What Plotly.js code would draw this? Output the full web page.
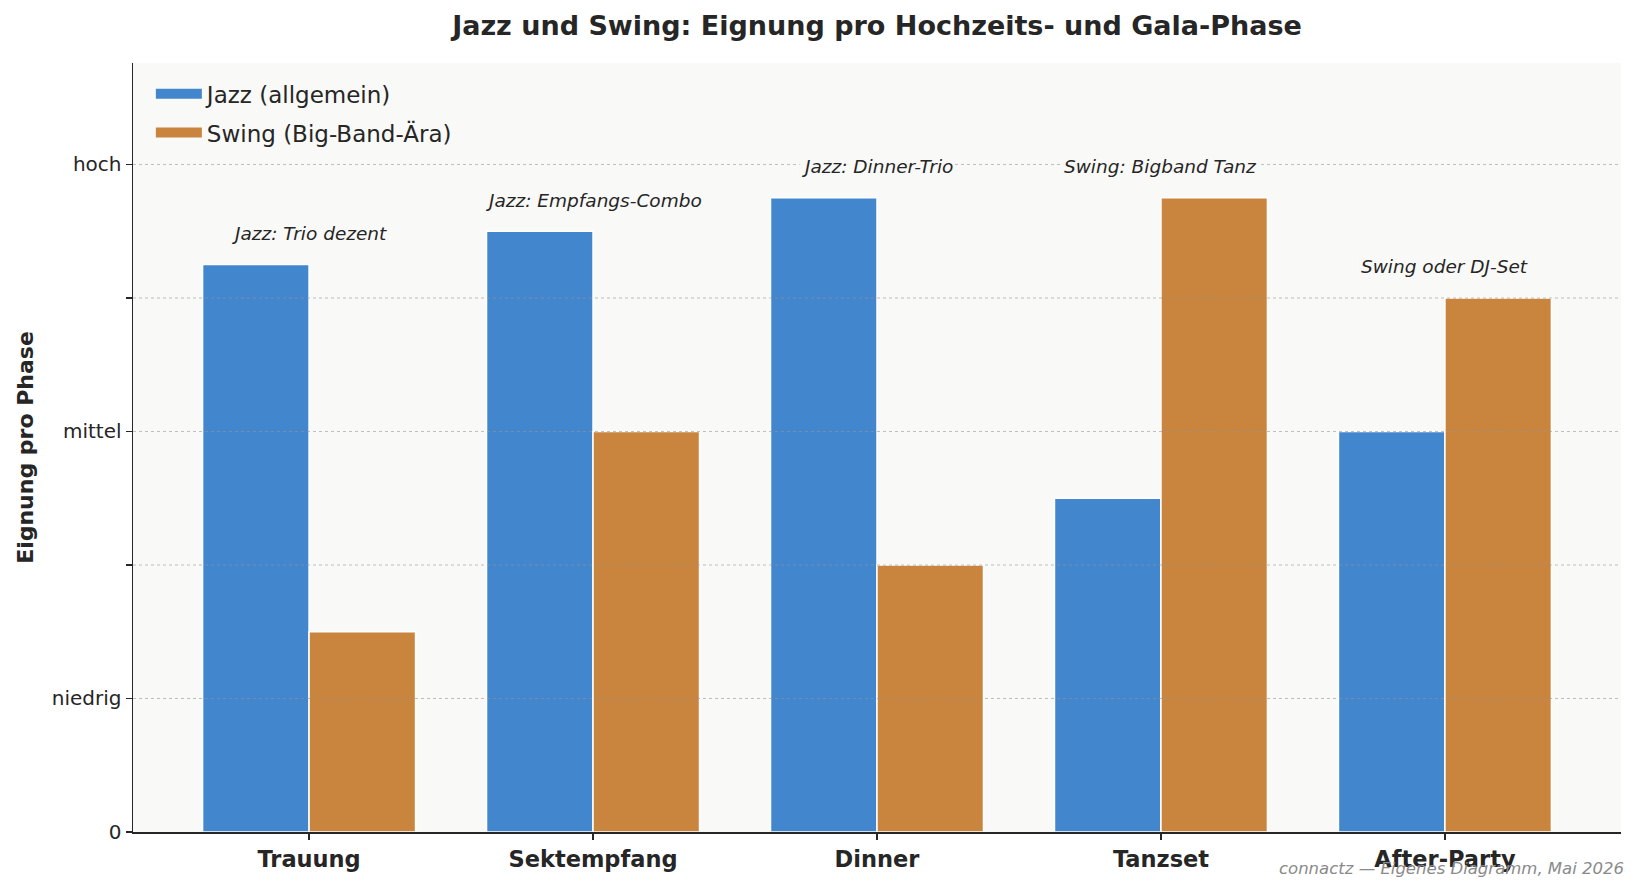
<!DOCTYPE html>
<html>
<head>
<meta charset="utf-8">
<script src="https://cdn.plot.ly/plotly-3.0.1.min.js"></script>
<style>html,body{margin:0;padding:0;background:#fff;}#chart{width:1641px;height:894px;}</style>
</head>
<body>
<div id="chart"></div>
<script>
const phases = ["Trauung", "Sektempfang", "Dinner", "Tanzset", "After-Party"];
const jazzValues = [4.25, 4.5, 4.75, 2.5, 3.0];
const swingValues = [1.5, 3.0, 2.0, 4.75, 4.0];
const seriesNames = ["Jazz (allgemein)", "Swing (Big-Band-Ära)"];
const noteLabels = ["Jazz: Trio dezent", "Jazz: Empfangs-Combo", "Jazz: Dinner-Trio", "Swing: Bigband Tanz", "Swing oder DJ-Set"];
const yTickVals = [0, 1, 2, 3, 4, 5];
const yTickText = ["0", "niedrig", "", "mittel", "", "hoch"];

const FONT = "DejaVu Sans, Verdana, sans-serif";
const TXT = "#262626";
const COLORS = ["#4286CE", "#C9853D"];

const traces = [
  {type: "bar", name: seriesNames[0], x: phases, y: jazzValues, legendgroup: "j", showlegend: false,
   marker: {color: COLORS[0], line: {color: "#ffffff", width: 1.5}}, hoverinfo: "x+y"},
  {type: "bar", name: seriesNames[1], x: phases, y: swingValues, legendgroup: "s", showlegend: false,
   marker: {color: COLORS[1], line: {color: "#ffffff", width: 1.5}}, hoverinfo: "x+y"},
  // legend keys only (wide rectangular swatches)
  {type: "scatter", mode: "lines", name: seriesNames[0], x: [null], y: [null], legendgroup: "j",
   line: {color: COLORS[0], width: 15}, hoverinfo: "skip"},
  {type: "scatter", mode: "lines", name: seriesNames[1], x: [null], y: [null], legendgroup: "s",
   line: {color: COLORS[1], width: 15}, hoverinfo: "skip"}
];

const annotations = phases.map((p, i) => ({
  x: p, y: Math.max(jazzValues[i], swingValues[i]), xref: "x", yref: "y",
  text: noteLabels[i], showarrow: false, yanchor: "middle", yshift: 31,
  font: {family: FONT, size: 18.5, color: TXT, style: "italic"},
  bgcolor: "rgba(249,249,247,0.85)", borderpad: 1
}));
annotations.push({
  text: "connactz — Eigenes Diagramm, Mai 2026", xref: "paper", yref: "paper",
  x: 1.0034, y: -0.048, xanchor: "right", yanchor: "middle", showarrow: false,
  font: {family: FONT, size: 16.5, color: "#8a8a8a", style: "italic"}
});

const shapes = yTickVals.filter(v => v > 0).map(v => ({
  type: "line", xref: "paper", yref: "y", x0: 0, x1: 1, y0: v, y1: v, layer: "above",
  line: {color: "rgba(150,150,150,0.6)", width: 1, dash: "dot"}
}));

const layout = {
  width: 1641, height: 894,
  paper_bgcolor: "#ffffff", plot_bgcolor: "#F9F9F7",
  margin: {l: 133, r: 20, t: 63, b: 62},
  font: {family: FONT, color: TXT},
  title: {text: "Jazz und Swing: Eignung pro Hochzeits- und Gala-Phase",
          font: {family: FONT, size: 27, color: TXT, weight: "bold"},
          x: 0.5, xref: "paper", xanchor: "center", y: 1 - 26 / 894, yref: "container", yanchor: "middle"},
  barmode: "group", bargap: 0.25, bargroupgap: 0,
  showlegend: true,
  legend: {x: 0.012, y: 0.988, xanchor: "left", yanchor: "top", bgcolor: "rgba(0,0,0,0)",
           font: {family: FONT, size: 23, color: TXT}, itemwidth: 46, tracegroupgap: 6},
  xaxis: {range: [-0.62, 4.62], showgrid: false, zeroline: false,
          showline: true, linecolor: TXT, linewidth: 1.5,
          ticks: "outside", ticklen: 6, tickcolor: TXT, tickwidth: 1.3,
          tickfont: {family: FONT, size: 22.5, color: TXT, weight: "bold"}},
  yaxis: {range: [0, 5.76], tickmode: "array", tickvals: yTickVals, ticktext: yTickText,
          showgrid: false, zeroline: false, showline: true, linecolor: TXT, linewidth: 1.5,
          ticks: "outside", ticklen: 6, tickcolor: TXT, tickwidth: 1.3,
          tickfont: {family: FONT, size: 20, color: TXT},
          title: {text: "Eignung pro Phase", standoff: 12,
                  font: {family: FONT, size: 22, color: TXT, weight: "bold"}}},
  annotations: annotations,
  shapes: shapes
};

Plotly.newPlot("chart", traces, layout, {displayModeBar: false, staticPlot: true});
</script>
</body>
</html>
